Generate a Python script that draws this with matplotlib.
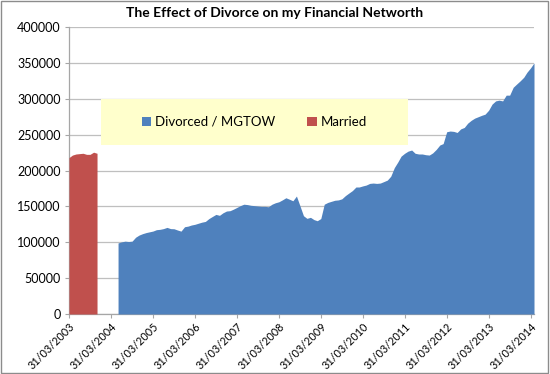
import datetime as dt
import matplotlib
matplotlib.use("Agg")
import matplotlib.pyplot as plt
import matplotlib.dates as mdates
from matplotlib.patches import Rectangle, Patch

plt.rcParams['font.family'] = ['Lato', 'DejaVu Sans']

# --- data (month-end values) ---
married_start = (2003, 3)
married_values = [218000, 221500, 223000, 223500, 224000, 222500, 222500, 225500, 224000]

divorced_start = (2004, 5)
divorced_values = [
    99000, 100500, 101500, 101000, 101500, 107000, 110000, 112000, 113500, 114500,
    115600, 117500, 118000, 119000, 120700, 119000, 118800, 117000, 115500, 121600,
    122500, 124000, 125000, 126500, 128000, 129000, 133000, 136000, 138800, 137500,
    141000, 143500, 144000, 146000, 148500, 151000, 153000, 152500, 151500, 151000,
    150500, 150000, 150000, 149500, 153000, 155000, 156400, 159000, 162000, 160000,
    157800, 164400, 151000, 137000, 133300, 134700, 131500, 130000, 133000, 153000,
    155500, 157000, 158500, 159000, 160500, 165000, 168500, 172000, 177000, 177000,
    178500, 179700, 182000, 182500, 182000, 182500, 184500, 186600, 192000, 204000,
    212000, 220000, 224000, 227000, 228500, 224000, 223000, 223000, 222000, 221500,
    224500, 229400, 235500, 237500, 254000, 255000, 254500, 253000, 258000, 260000,
    266000, 270000, 273000, 275000, 277000, 278500, 284000, 292500, 297000, 298000,
    297000, 305000, 305000, 316000, 320500, 325000, 330000, 337000, 343000, 350000,
]

tick_years = list(range(2003, 2015))


def month_ends(start, n):
    y, m = start
    out = []
    for _ in range(n):
        ny, nm = (y + 1, 1) if m == 12 else (y, m + 1)
        out.append(dt.date(ny, nm, 1) - dt.timedelta(days=1))
        y, m = ny, nm
    return out


married_dates = month_ends(married_start, len(married_values))
divorced_dates = month_ends(divorced_start, len(divorced_values))

BLUE = "#4F81BD"
RED = "#C0504D"
GRID = "#BFBFBF"
AXIS = "#A6A6A6"

fig = plt.figure(figsize=(5.5, 3.74), dpi=100)
ax = fig.add_axes([69 / 550, 1 - 314 / 374, 465 / 550, 287 / 374])

ax.fill_between(divorced_dates, divorced_values, 0, color=BLUE, lw=0, zorder=3,
                label="Divorced / MGTOW")
ax.fill_between(married_dates, married_values, 0, color=RED, lw=0, zorder=3,
                label="Married")

ax.set_xlim(dt.date(2003, 3, 31), divorced_dates[-1])
ax.set_ylim(0, 400000)
ax.set_yticks(range(0, 400001, 50000))
ax.yaxis.grid(True, color=GRID, lw=0.9, zorder=0)
ax.set_axisbelow(True)

ax.set_xticks([dt.date(y, 3, 31) for y in tick_years])
ax.xaxis.set_major_formatter(mdates.DateFormatter("%d/%m/%Y"))
ax.tick_params(axis="both", direction="out", length=3, color=AXIS,
               labelsize=9, labelcolor="black", pad=3)
ax.tick_params(axis="x", labelsize=7.8, pad=2)
plt.setp(ax.get_xticklabels(), rotation=45, ha="right", rotation_mode="anchor")

for side in ("top", "right"):
    ax.spines[side].set_visible(False)
for side in ("left", "bottom"):
    ax.spines[side].set_color(AXIS)
    ax.spines[side].set_linewidth(0.9)

ax.set_title("The Effect of Divorce on my Financial Networth", fontsize=10,
             fontweight="bold", x=(275 - 69) / 465, pad=7)

# legend box (yellow)
bx0, bx1 = (101 - 69) / 465, (408 - 69) / 465
by0, by1 = (314 - 145) / 287, (314 - 99) / 287
ax.add_patch(Rectangle((bx0, by0), bx1 - bx0, by1 - by0, transform=ax.transAxes,
                       facecolor="#FFFFCC", edgecolor="none", zorder=2))
handles = [Patch(facecolor=BLUE, label="Divorced / MGTOW"),
           Patch(facecolor=RED, label="Married")]
ax.legend(handles=handles, loc="center", ncol=2, frameon=False,
          bbox_to_anchor=((bx0 + bx1) / 2, (by0 + by1) / 2),
          fontsize=9.5, handlelength=0.7, handleheight=0.7, handletextpad=0.3,
          columnspacing=2.4)

# chart border
fig.patches.append(Rectangle((0.002, 0.003), 0.995, 0.993, transform=fig.transFigure,
                             facecolor="none", edgecolor="#8C8C8C", lw=1.0))

fig.savefig("out.png", dpi=100)
